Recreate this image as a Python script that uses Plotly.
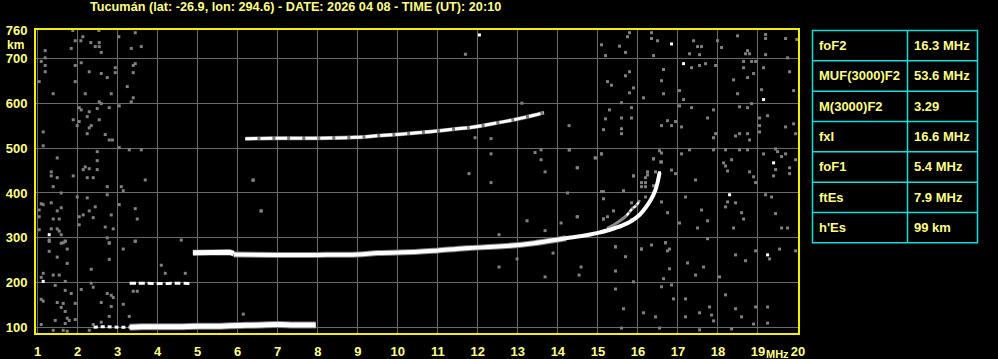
import plotly.graph_objects as go

# ---------------- data ----------------
title_text = "Tucumán (lat: -26.9, lon: 294.6) - DATE: 2026 04 08 - TIME (UT): 20:10"

# E-sporadic trace (~100 km): sparse start, then dense part
es_a_f = [2.4, 2.7, 3.0, 3.3]
es_a_h = [101, 102, 101, 101]
es_f = [3.3, 3.6, 4.0, 4.5, 5.0, 5.5, 5.8, 6.2, 6.6, 7.0, 7.4, 7.95]
es_h = [101, 102, 102, 102, 103, 103, 104, 105, 106, 107, 106, 106]

# second-hop Es (~200 km)
es2_f = [3.3, 3.7, 4.1, 4.5, 4.85]
es2_h = [199, 199, 198, 199, 198]

# F trace (ordinary): short low-frequency piece, then main trace
fa_f = [4.88, 5.2, 5.5, 5.8, 5.9]
fa_h = [267, 268, 268, 268, 265]
f_f = [5.9, 7.0, 8.0, 9.0, 9.5, 10.5, 11.0, 11.7, 12.6, 13.4, 14.2, 14.6, 15.0,
       15.3, 15.6, 15.85, 16.05, 16.2, 16.33, 16.43, 16.49, 16.54]
f_h = [263, 262, 262, 263, 266, 269, 272, 277, 281, 288, 299, 304, 311,
       318, 327, 338, 352, 368, 386, 405, 423, 445]

# inner (x) branch near foF2
fx_f = [15.23, 15.4, 15.57, 15.72, 15.86, 15.97, 16.04]
fx_h = [321, 329, 339, 350, 365, 373, 384]

# second hop F (~520 km)
f2_f = [6.19, 7.0, 8.0, 8.98, 9.57, 10.07, 10.48, 10.98, 11.48, 11.82, 12.23, 12.9, 13.4, 13.65]
f2_h = [521, 522, 522, 524, 528, 531, 534, 538, 543, 546, 552, 563, 573, 579]

# scattered noise (grey)
noise_f = [1.88, 2.53, 3.44, 2.13, 1.94, 2.08, 2.33, 2.54, 3.03, 1.19, 1.84, 2.44, 2.54, 2.59, 3.34, 3.59,
           1.19, 1.09, 1.19, 1.94, 2.09, 3.44, 3.39, 2.94, 1.19, 2.29, 2.59, 2.94, 3.39, 2.74, 1.04, 1.94,
           3.24, 1.39, 2.19, 2.84, 3.39, 3.34, 2.54, 2.59, 3.04, 2.04, 2.09, 2.49, 2.79, 2.29, 2.24, 1.89,
           2.04, 2.54, 2.34, 1.99, 2.29, 1.14, 2.24, 2.69, 2.79, 2.87, 1.14, 3.04, 3.29, 3.59, 2.49, 1.49,
           2.49, 2.19, 2.29, 2.14, 2.49, 1.34, 1.34, 1.49, 1.89, 2.24, 2.39, 3.69, 6.39, 1.39, 2.74, 3.09,
           3.14, 1.59, 2.74, 1.99, 2.24, 1.09, 1.14, 1.34, 1.59, 3.04, 1.04, 2.44, 3.44, 1.49, 1.04, 2.14,
           2.29, 2.84, 2.04, 2.39, 1.39, 1.54, 3.49, 6.59, 2.04, 2.69, 2.89, 1.04, 1.34, 1.49, 1.54, 1.59,
           2.74, 1.29, 4.59, 1.69, 1.64, 3.44, 2.79,
           1.29, 1.59, 1.69, 2.79, 3.44, 1.29, 1.49, 1.74, 2.79, 3.14, 1.74, 2.34, 4.09, 4.19, 4.69, 1.14,
           1.09, 1.39, 1.54, 1.44, 1.69, 2.34, 2.39, 1.69, 1.84, 2.09, 3.39, 3.49, 2.74, 2.84, 2.89, 1.09,
           1.14, 1.49, 1.64, 1.59, 1.69, 1.94, 2.59, 2.84, 3.14, 2.79, 3.29, 6.14, 1.44, 1.74, 1.79, 1.94,
           1.69, 1.09, 1.39, 1.64, 1.74, 2.29, 2.39, 2.59,
           15.79, 15.74, 16.34, 16.34, 16.49, 15.54, 15.09, 15.19, 15.69, 16.39, 17.39, 17.29, 17.49, 17.59,
           17.54, 17.99, 18.09, 18.49, 19.19, 19.19, 19.69, 19.97, 18.74, 18.79, 18.69, 19.19, 19.74, 17.34,
           17.54, 17.69, 17.94, 16.64, 15.79, 15.69, 16.59, 17.04, 15.24, 15.34, 15.89, 15.79, 16.14, 16.64,
           17.14, 17.04, 18.39, 18.49, 18.64, 18.84, 18.64, 18.74, 18.89, 18.94, 19.14, 19.79, 19.09, 19.89,
           15.59, 15.84, 15.29, 15.19, 15.59, 15.84, 15.59, 15.14, 15.59, 16.59, 16.74, 16.84, 16.94, 17.09,
           17.34, 17.74, 17.89, 17.94, 17.89, 18.54, 18.74, 18.84, 19.04, 19.04, 19.24, 19.69, 19.89, 19.94,
           18.44, 18.54, 18.74, 18.79, 19.04, 15.09, 16.39, 16.59, 16.59, 17.09, 17.29, 17.89, 18.19, 18.14,
           18.19, 18.24, 18.34, 18.54, 18.74, 19.14, 19.44, 19.49, 19.59, 19.69, 19.79, 19.94, 19.44, 18.79,
           16.24, 16.44, 16.94,
           15.89, 16.19, 16.09, 16.19, 16.39, 16.59, 16.74, 17.04, 17.19, 17.44, 17.49, 17.59, 17.74, 17.74,
           18.19, 18.24, 18.44, 18.59, 18.39, 18.64, 18.89, 18.94, 19.19, 19.34, 19.44, 19.59, 19.74, 19.39,
           19.79, 15.09, 15.14, 15.44, 15.69, 16.09, 16.34, 16.69, 16.74, 16.79, 16.64, 16.84, 16.59, 17.24,
           17.64, 17.44, 17.19, 17.79, 17.84, 17.89, 17.54, 18.44, 18.69, 18.94, 19.29, 19.94, 19.54, 18.04,
           18.19, 18.44, 18.59, 18.94, 19.24, 19.24, 15.44, 15.44, 15.64, 15.89, 16.14, 16.44, 16.89, 17.19,
           15.59, 16.54, 17.54, 18.34, 18.89,
           14.29, 15.09, 14.94, 14.49, 15.89, 15.64, 15.14, 15.14, 14.24, 15.39, 15.24, 15.14, 14.49, 16.19,
           16.09, 16.24, 16.39, 16.57, 16.84, 16.54, 15.84, 16.19, 15.84, 15.44, 16.09, 16.69, 16.79,
           6.38, 6.58, 11.78, 12.33, 12.33, 11.93, 12.33, 13.43, 13.58, 13.58, 13.68, 14.28, 14.28, 14.48,
           14.93, 13.23, 13.68, 14.08, 14.48, 12.53, 12.98, 12.53, 13.88, 13.68, 14.58, 14.53, 11.69, 13.1]
noise_h = [762, 762, 757, 748, 739, 739, 735, 735, 748, 717, 722, 726, 726, 713, 722, 726,
           701, 693, 684, 684, 690, 688, 684, 679, 670, 670, 666, 668, 668, 657, 648, 648,
           637, 621, 621, 621, 612, 603, 603, 599, 594, 590, 585, 588, 590, 581, 570, 563,
           559, 563, 550, 550, 545, 536, 532, 530, 518, 518, 505, 501, 496, 496, 492, 478,
           472, 458, 454, 452, 452, 447, 438, 434, 438, 434, 434, 429, 429, 414, 414, 414,
           405, 400, 396, 391, 389, 376, 374, 378, 367, 374, 362, 369, 365, 360, 347, 351,
           360, 351, 347, 345, 342, 342, 342, 360, 329, 324, 320, 318, 320, 320, 315, 307,
           300, 295, 295, 293, 289, 293, 289,
           292, 288, 292, 288, 292, 270, 257, 275, 252, 275, 243, 230, 239, 221, 221, 221,
           212, 217, 217, 194, 203, 199, 190, 183, 176, 185, 181, 181, 176, 172, 167, 163,
           159, 156, 154, 145, 136, 154, 156, 147, 152, 125, 125, 130, 116, 121, 116, 118,
           109, 107, 94, 94, 92, 94, 107, 112,
           757, 748, 757, 744, 739, 727, 730, 706, 713, 706, 739, 710, 726, 726,
           708, 739, 724, 750, 753, 744, 744, 742, 717, 710, 710, 708, 701, 679,
           684, 688, 684, 675, 670, 661, 650, 628, 648, 640, 634, 623, 612, 621,
           608, 594, 652, 621, 693, 693, 679, 657, 666, 693, 679, 670, 630, 628,
           601, 590, 585, 565, 567, 567, 543, 541, 532, 550, 561, 550, 559, 547,
           590, 567, 585, 532, 523, 592, 590, 599, 567, 550, 572, 547, 554, 532,
           527, 532, 532, 518, 536, 487, 476, 489, 469, 487, 496, 496, 496, 467,
           460, 449, 474, 496, 496, 487, 498, 492, 481, 487, 456, 474, 452, 447,
           447, 447, 443,
           438, 434, 423, 414, 416, 380, 356, 333, 391, 429, 322, 362, 338, 298,
           369, 380, 378, 356, 322, 342, 436, 423, 396, 391, 354, 322, 322, 438,
           443, 403, 342, 280, 258, 275, 284, 289, 271, 231, 209, 195, 191, 244,
           235, 217, 164, 146, 128, 115, 133, 262, 249, 271, 253, 271, 275, 213,
           173, 142, 124, 146, 146, 110, 226, 186, 142, 202, 133, 124, 164, 124,
           99, 99, 95, 97, 108,
           496, 487, 478, 456, 438, 405, 403, 387, 400, 360, 347, 342, 347, 423,
           414, 440, 476, 469, 451, 494, 378, 391, 340, 280, 275, 289, 275,
           428, 360, 443, 423, 487, 523, 521, 490, 496, 474, 447, 550, 496, 456,
           478, 338, 316, 333, 347, 307, 253, 235, 266, 213, 235, 217, 709, 600]

# bright (white) isolated echoes
bright_f = [1.29, 1.14, 16.84, 17.14, 19.14, 18.29, 19.24, 19.39, 16.54, 12.04]
bright_h = [307, 203, 732, 688, 608, 396, 262, 467, 445, 752]

# x axis ticks
x_tickvals = list(range(1, 21))
x_ticktext = [str(v) for v in range(1, 21)]
# y axis ticks
y_tickvals = [100, 200, 300, 400, 500, 600, 700, 763]
y_ticktext = ["100", "200", "300", "400", "500", "600", "700", "760"]

# parameter table
param_names = ["foF2", "MUF(3000)F2", "M(3000)F2", "fxI", "foF1", "ftEs", "h'Es"]
param_values = ["16.3 MHz", "53.6 MHz", "3.29", "16.6 MHz", "5.4 MHz", "7.9 MHz", "99 km"]

# ---------------- styles ----------------
W, H = 998, 359
ML, MR, MT, MB = 36, 200, 30, 26
TXT = "#ffff80"
FONT = "Liberation Sans"
BORDER = "#f0f000"
GRID = "#6a6a6a"
NOISE = "#808080"
CYAN = "#10e0e0"

fig = go.Figure()

def trace_line(fx, hy, width, color="white", dash=None, shape="spline"):
    fig.add_trace(go.Scatter(x=fx, y=hy, mode="lines",
                             line=dict(color=color, width=width, dash=dash, shape=shape),
                             hoverinfo="skip", showlegend=False))

fig.add_trace(go.Scatter(x=noise_f, y=noise_h, mode="markers",
                         marker=dict(symbol="square", size=3, color=NOISE, line=dict(width=0)),
                         hoverinfo="skip", showlegend=False))

# grey fringes under traces
trace_line(es_f, es_h, 7, "#7a7a7a")
trace_line(fa_f, fa_h, 6, "#7a7a7a", shape="linear")
trace_line(f_f[:11], f_h[:11], 6, "#7a7a7a")
trace_line(f2_f, f2_h, 4, "#7a7a7a")
trace_line(fx_f, fx_h, 3, "#8a8a8a")

# white echo traces
trace_line(es_a_f, es_a_h, 3, dash="4px,3px")
trace_line(es_f, es_h, 5)
trace_line(es2_f, es2_h, 3, dash="6px,3px")
trace_line(fa_f, fa_h, 5, shape="linear")
trace_line(f_f, f_h, 4)
trace_line(f2_f, f2_h, 3, dash="12px,3px")
trace_line(fx_f[3:], fx_h[3:], 2, dash="3px,2px")

fig.add_trace(go.Scatter(x=bright_f, y=bright_h, mode="markers",
                         marker=dict(symbol="square", size=3, color="white", line=dict(width=0)),
                         hoverinfo="skip", showlegend=False))

axis_font = dict(family=FONT, size=13, color=TXT, weight="bold")

fig.update_xaxes(range=[0.96, 20.0], tickvals=x_tickvals, ticktext=x_ticktext,
                 showgrid=True, gridcolor=GRID, gridwidth=1, zeroline=False,
                 showline=True, linecolor=BORDER, linewidth=2, mirror=True,
                 ticks="", tickfont=axis_font, ticklabelstandoff=5, automargin=False)
fig.update_yaxes(range=[88, 763], tickvals=y_tickvals, ticktext=y_ticktext,
                 showgrid=True, gridcolor=GRID, gridwidth=1, zeroline=False,
                 showline=True, linecolor=BORDER, linewidth=2, mirror=True,
                 ticks="", tickfont=axis_font, ticklabelstandoff=4, automargin=False)

plot_w = W - ML - MR
plot_h = H - MT - MB

def px_x(x):
    return (x - ML) / plot_w

def px_y(y):
    return (H - MB - y) / plot_h

annotations = [
    dict(text=title_text, x=px_x(295), y=px_y(7), xref="paper", yref="paper",
         showarrow=False, font=dict(family=FONT, size=12.7, color=TXT, weight="bold"),
         xanchor="center", yanchor="middle"),
    dict(text="km", x=px_x(5), y=px_y(45), xref="paper", yref="paper",
         showarrow=False, font=dict(family=FONT, size=12, color=TXT, weight="bold"),
         xanchor="left", yanchor="middle"),
    dict(text="MHz", x=px_x(777.5), y=px_y(354), xref="paper", yref="paper",
         showarrow=False, font=dict(family=FONT, size=11, color=TXT, weight="bold"),
         xanchor="center", yanchor="middle"),
]

shapes = []
tab_l, tab_m, tab_r = 812.5, 907.5, 977.5
tab_t, row_h = 30.5, 30.33
n = len(param_names)
shapes.append(dict(type="rect", xref="paper", yref="paper",
                   x0=px_x(tab_l), x1=px_x(tab_r), y0=px_y(tab_t), y1=px_y(tab_t + n * row_h),
                   line=dict(color=CYAN, width=1.5)))
shapes.append(dict(type="line", xref="paper", yref="paper",
                   x0=px_x(tab_m), x1=px_x(tab_m), y0=px_y(tab_t), y1=px_y(tab_t + n * row_h),
                   line=dict(color=CYAN, width=1.5)))
for i in range(n):
    if i > 0:
        yy = tab_t + i * row_h
        shapes.append(dict(type="line", xref="paper", yref="paper",
                           x0=px_x(tab_l), x1=px_x(tab_r), y0=px_y(yy), y1=px_y(yy),
                           line=dict(color=CYAN, width=1.5)))
    yc = tab_t + (i + 0.5) * row_h
    annotations.append(dict(text=param_names[i], x=px_x(817), y=px_y(yc), xref="paper", yref="paper",
                            showarrow=False, xanchor="left", yanchor="middle",
                            font=dict(family=FONT, size=13, color=TXT, weight="bold")))
    annotations.append(dict(text=param_values[i], x=px_x(912), y=px_y(yc), xref="paper", yref="paper",
                            showarrow=False, xanchor="left", yanchor="middle",
                            font=dict(family=FONT, size=13, color=TXT, weight="bold")))

fig.update_layout(width=W, height=H, margin=dict(l=ML, r=MR, t=MT, b=MB, pad=0),
                  paper_bgcolor="black", plot_bgcolor="black",
                  annotations=annotations, shapes=shapes, showlegend=False)

fig.write_html("out.html")
